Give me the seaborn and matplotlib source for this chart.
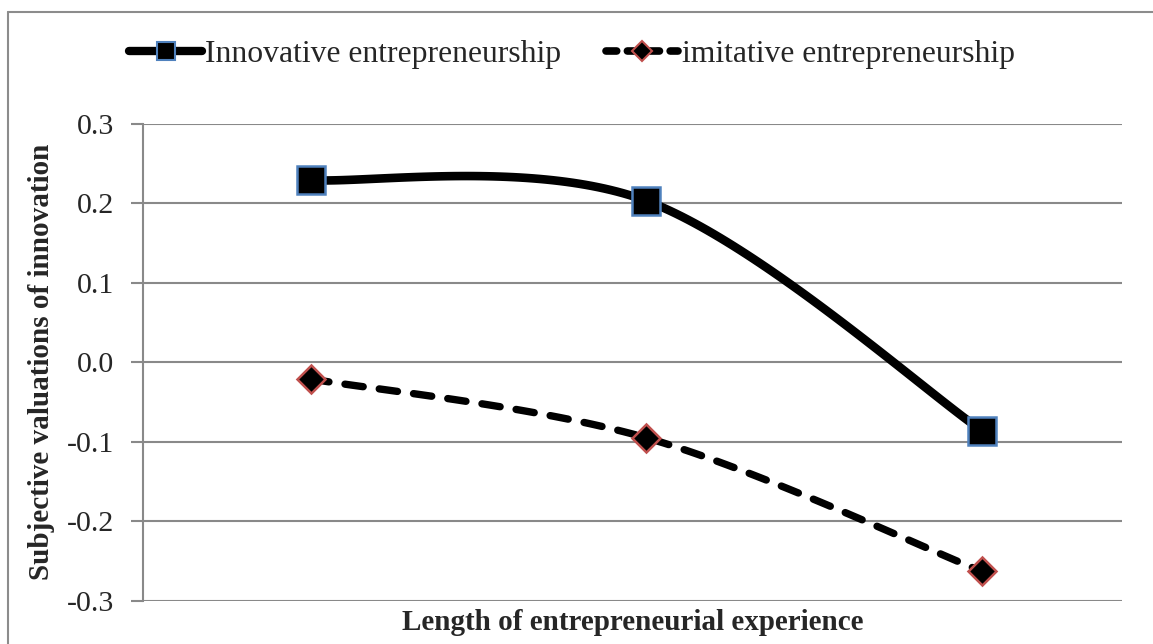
import numpy as np
import pandas as pd
import matplotlib
matplotlib.use("Agg")
import matplotlib.pyplot as plt
from matplotlib.lines import Line2D
import seaborn as sns

# ---- data ----
categories = ["Short", "Medium", "Long"]
innovative = [0.229, 0.203, -0.086]
imitative = [-0.021, -0.095, -0.263]
y_ticks = [-0.3, -0.2, -0.1, 0.0, 0.1, 0.2, 0.3]
series_names = ["Innovative entrepreneurship", "imitative entrepreneurship"]


def excel_smooth(xs, ys, n=60):
    """Excel-style smoothed line (Catmull-Rom Bezier through the points)."""
    P = np.column_stack([xs, ys]).astype(float)
    ext = np.vstack([P[0], P, P[-1]])
    out = []
    for i in range(len(P) - 1):
        p0, p1, p2, p3 = ext[i], ext[i + 1], ext[i + 2], ext[i + 3]
        c1 = p1 + (p2 - p0) / 6.0
        c2 = p2 - (p3 - p1) / 6.0
        t = np.linspace(0, 1, n)[:, None]
        seg = ((1 - t) ** 3) * p1 + 3 * ((1 - t) ** 2) * t * c1 + 3 * (1 - t) * t ** 2 * c2 + t ** 3 * p2
        out.append(seg if i == 0 else seg[1:])
    s = np.vstack(out)
    return s[:, 0], s[:, 1]


sns.set_theme(style="white")
plt.rcParams["font.family"] = ["Liberation Serif", "DejaVu Serif"]

fig = plt.figure(figsize=(11.53, 6.44), dpi=100)
ax = fig.add_axes([0.124, 0.067, 0.849, 0.741])

xpos = np.arange(len(categories))

rows = []
for name, vals in zip(series_names, [innovative, imitative]):
    sx, sy = excel_smooth(xpos, vals)
    rows.append(pd.DataFrame({"x": sx, "y": sy, "series": name}))
curves = pd.concat(rows, ignore_index=True)

grid_color = "#898989"
for yt in y_ticks:
    ax.axhline(yt, color=grid_color, lw=1.5, zorder=0)

sns.lineplot(data=curves[curves.series == series_names[0]], x="x", y="y", color="black",
             lw=6.2, ax=ax, sort=False, legend=False, solid_capstyle="round", zorder=2)
sns.lineplot(data=curves[curves.series == series_names[1]], x="x", y="y", color="black",
             lw=5.3, ax=ax, sort=False, legend=False, zorder=2)
ax.lines[-1].set_dashes((2.5, 2.2))
ax.lines[-1].set_dash_capstyle("round")

pts = pd.DataFrame({"x": xpos, "inn": innovative, "imi": imitative})
ax.plot(pts.x, pts.inn, ls="none", marker="s", ms=19.5, mfc="black", mec="#4F81BD", mew=1.8, zorder=3)
ax.plot(pts.x, pts.imi, ls="none", marker="D", ms=14, mfc="black", mec="#C0504D", mew=1.8, zorder=3)

ax.set_xlim(-0.5, 2.417)
ax.set_ylim(-0.3, 0.3)
ax.set_yticks(y_ticks)
ax.set_yticklabels([f"{v:.1f}" for v in y_ticks], fontsize=21.5)
ax.set_xticks([])
ax.tick_params(axis="y", left=True, length=9, width=1.5, color=grid_color, pad=12)

for side in ["top", "right", "bottom"]:
    ax.spines[side].set_visible(False)
ax.spines["left"].set_color(grid_color)
ax.spines["left"].set_linewidth(1.5)

ax.set_xlabel("Length of entrepreneurial experience", fontsize=21, fontweight="bold", labelpad=6)
ax.set_ylabel("Subjective valuations of innovation", fontsize=21, fontweight="bold", labelpad=8)

h1 = Line2D([], [], color="black", lw=6, marker="s", ms=13.5, mfc="black", mec="#4F81BD", mew=1.5,
            solid_capstyle="round")
h2 = Line2D([], [], color="black", lw=5.5, ls=(0, (1.4, 1.4)), marker="D", ms=10, mfc="black",
            mec="#C0504D", mew=1.5, dash_capstyle="round")
leg = fig.legend([h1, h2], series_names, loc="center", bbox_to_anchor=(0.496, 0.916), ncol=2,
                 frameon=False, fontsize=22.8, handlelength=2.3, handletextpad=0.1, columnspacing=1.4)

# outer chart border (top and left edges visible)
fig.add_artist(Line2D([0.007, 1.0], [0.981, 0.981], transform=fig.transFigure, color="#8C8C8C", lw=1.5))
fig.add_artist(Line2D([0.007, 0.007], [0.0, 0.981], transform=fig.transFigure, color="#8C8C8C", lw=1.5))

fig.savefig("out.png", dpi=100)
